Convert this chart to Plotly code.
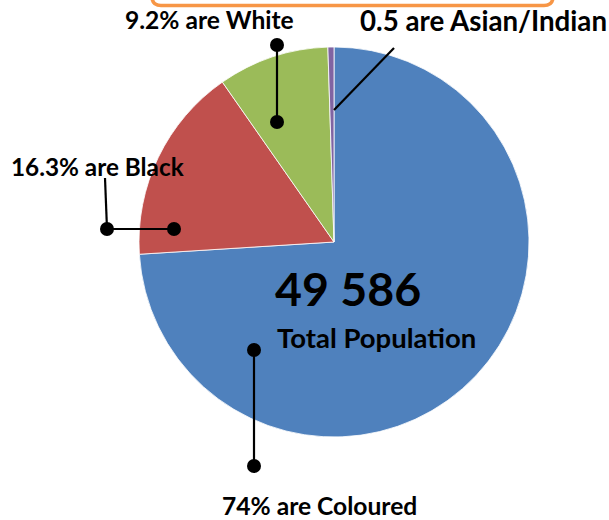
import plotly.graph_objects as go

# Population breakdown
groups = ["Coloured", "Black", "White", "Asian/Indian"]
shares = [74, 16.3, 9.2, 0.5]
colors = ["#4F81BD", "#C0504D", "#9BBB59", "#8064A2"]
total_population = "49 586"
label_texts = ["74% are Coloured", "16.3% are Black", "9.2% are White", "0.5 are Asian/Indian"]

W, H = 609, 520
cx, cy, r = 334, 242, 195
FONT = "Lato, 'Open Sans', sans-serif"

fig = go.Figure()

fig.add_trace(go.Pie(
    labels=groups, values=shares, sort=False, direction="clockwise", rotation=0,
    marker=dict(colors=colors, line=dict(color="white", width=0.8)),
    textinfo="none", hoverinfo="label+value", showlegend=False,
    domain=dict(x=[(cx - r) / W, (cx + r) / W], y=[(H - cy - r) / H, (H - cy + r) / H]),
))

# leader lines with dot ends, in pixel coordinates on hidden axes
leaders = [
    dict(x=[254, 254], y=[350, 466], dots=True),           # Coloured
    dict(x=[174, 107], y=[229, 229], dots=True),           # Black
    dict(x=[107, 105], y=[229, 178], dots=False),
    dict(x=[277, 277], y=[122, 45], dots=True),            # White
    dict(x=[334, 394], y=[110, 48], dots=False),           # Asian/Indian
]
dot_r = 7
for ld in leaders:
    fig.add_shape(type="line", xref="x", yref="y", layer="above",
                  x0=ld["x"][0], y0=ld["y"][0], x1=ld["x"][1], y1=ld["y"][1],
                  line=dict(color="black", width=2.2))
    if ld["dots"]:
        for px, py in zip(ld["x"], ld["y"]):
            fig.add_shape(type="circle", xref="x", yref="y", layer="above",
                          x0=px - dot_r, x1=px + dot_r, y0=py - dot_r, y1=py + dot_r,
                          fillcolor="black", line=dict(width=0))

text_pos = [
    (319, 505, 24.6),
    (97, 166, 24.3),
    (209, 19, 24.6),
    (483, 20, 27.7),
]
for txt, (x, y, s) in zip(label_texts, text_pos):
    fig.add_annotation(x=x, y=y, xref="x", yref="y", text=f"<b>{txt}</b>",
                       showarrow=False, font=dict(family=FONT, size=s, color="black"))

fig.add_annotation(x=348, y=288, xref="x", yref="y", text=f"<b>{total_population}</b>",
                   showarrow=False, font=dict(family=FONT, size=46.5, color="black"))
fig.add_annotation(x=376, y=337, xref="x", yref="y", text="<b>Total Population</b>",
                   showarrow=False, font=dict(family=FONT, size=27.5, color="black"))

# orange rounded frame running off the top edge
x0, x1, y0, y1, rr = 152, 553, -30, 5.5, 9
fig.add_shape(type="path", xref="x", yref="y",
              path=(f"M {x0},{y0} L {x0},{y1 - rr} Q {x0},{y1} {x0 + rr},{y1} "
                    f"L {x1 - rr},{y1} Q {x1},{y1} {x1},{y1 - rr} L {x1},{y0}"),
              line=dict(color="#F79646", width=3.5))

fig.update_layout(
    width=W, height=H, margin=dict(l=0, r=0, t=0, b=0),
    paper_bgcolor="white", plot_bgcolor="rgba(0,0,0,0)",
    xaxis=dict(range=[0, W], visible=False, fixedrange=True),
    yaxis=dict(range=[H, 0], visible=False, fixedrange=True),
)

fig.write_html("out.html")
